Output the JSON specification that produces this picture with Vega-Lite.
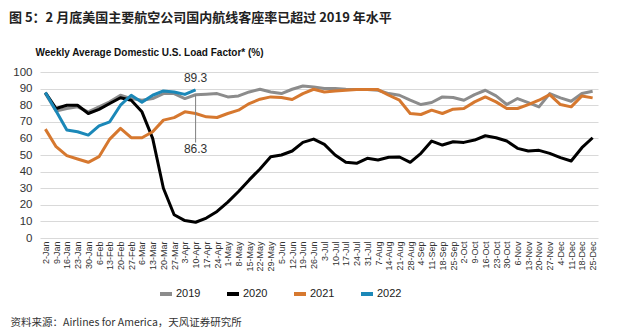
{
  "$schema": "https://vega.github.io/schema/vega-lite/v6.json",
  "width": 558,
  "height": 166,
  "autosize": {"type": "none"},
  "padding": {"left": 40, "top": 72, "right": 20, "bottom": 95},
  "background": "white",
  "config": {"font": "Liberation Sans, Noto Sans CJK SC", "view": {"stroke": null}},
  "title": {
    "text": "图 5：2 月底美国主要航空公司国内航线客座率已超过 2019 年水平",
    "anchor": "start", "frame": "group", "dx": -31, "offset": 22,
    "fontSize": 13, "font": "Noto Sans CJK SC", "fontWeight": "bold", "color": "#222222"
  },
  "data": {"values": [
    {"w": "2-Jan", "2019": 87, "2020": 87.6, "2021": 65.6, "2022": 87.6},
    {"w": "9-Jan", "2019": 76.5, "2020": 78, "2021": 55, "2022": 76.5},
    {"w": "16-Jan", "2019": 78, "2020": 80, "2021": 49.6, "2022": 65},
    {"w": "23-Jan", "2019": 79, "2020": 80, "2021": 47.6, "2022": 64},
    {"w": "30-Jan", "2019": 76, "2020": 75, "2021": 45.6, "2022": 62},
    {"w": "6-Feb", "2019": 79, "2020": 77.5, "2021": 49, "2022": 67.5},
    {"w": "13-Feb", "2019": 82, "2020": 81, "2021": 59.6, "2022": 70},
    {"w": "20-Feb", "2019": 86, "2020": 84.5, "2021": 66, "2022": 80},
    {"w": "27-Feb", "2019": 84, "2020": 83, "2021": 60.4, "2022": 86},
    {"w": "6-Mar", "2019": 83, "2020": 76, "2021": 60.4, "2022": 81.8},
    {"w": "13-Mar", "2019": 84, "2020": 60, "2021": 64, "2022": 86},
    {"w": "20-Mar", "2019": 87, "2020": 30, "2021": 71, "2022": 88.6},
    {"w": "27-Mar", "2019": 87, "2020": 14, "2021": 72.5, "2022": 88},
    {"w": "3-Apr", "2019": 84, "2020": 10.5, "2021": 76, "2022": 86.5},
    {"w": "10-Apr", "2019": 86.3, "2020": 9.5, "2021": 75, "2022": 89.3},
    {"w": "17-Apr", "2019": 86.6, "2020": 12, "2021": 73},
    {"w": "24-Apr", "2019": 87, "2020": 16, "2021": 72.6},
    {"w": "1-May", "2019": 85, "2020": 21.6, "2021": 75},
    {"w": "8-May", "2019": 85.6, "2020": 28, "2021": 77},
    {"w": "15-May", "2019": 88, "2020": 35, "2021": 81},
    {"w": "22-May", "2019": 89.6, "2020": 41.6, "2021": 83.6},
    {"w": "29-May", "2019": 88, "2020": 49, "2021": 85},
    {"w": "5-Jun", "2019": 87, "2020": 50, "2021": 84.6},
    {"w": "12-Jun", "2019": 89.6, "2020": 52.4, "2021": 83.4},
    {"w": "19-Jun", "2019": 91.6, "2020": 57.6, "2021": 87},
    {"w": "26-Jun", "2019": 91, "2020": 59.6, "2021": 89.6},
    {"w": "3-Jul", "2019": 90, "2020": 56.4, "2021": 88},
    {"w": "10-Jul", "2019": 90, "2020": 50, "2021": 88.6},
    {"w": "17-Jul", "2019": 89.6, "2020": 45.6, "2021": 89},
    {"w": "24-Jul", "2019": 89.4, "2020": 45, "2021": 89.4},
    {"w": "31-Jul", "2019": 89.4, "2020": 48, "2021": 89.4},
    {"w": "7-Aug", "2019": 89, "2020": 47, "2021": 89.4},
    {"w": "14-Aug", "2019": 87, "2020": 48.6, "2021": 86},
    {"w": "21-Aug", "2019": 86, "2020": 48.8, "2021": 83},
    {"w": "28-Aug", "2019": 83, "2020": 45.6, "2021": 75},
    {"w": "4-Sep", "2019": 80.4, "2020": 51, "2021": 74.4},
    {"w": "11-Sep", "2019": 81.6, "2020": 58.4, "2021": 77},
    {"w": "18-Sep", "2019": 85, "2020": 56, "2021": 75},
    {"w": "25-Sep", "2019": 84.6, "2020": 58, "2021": 77.6},
    {"w": "2-Oct", "2019": 83, "2020": 57.6, "2021": 78},
    {"w": "9-Oct", "2019": 86.4, "2020": 59, "2021": 82},
    {"w": "16-Oct", "2019": 89, "2020": 61.6, "2021": 85},
    {"w": "23-Oct", "2019": 85.6, "2020": 60.4, "2021": 82},
    {"w": "30-Oct", "2019": 80.4, "2020": 58.4, "2021": 78},
    {"w": "6-Nov", "2019": 84, "2020": 54, "2021": 78},
    {"w": "13-Nov", "2019": 81.6, "2020": 52.4, "2021": 80.4},
    {"w": "20-Nov", "2019": 79, "2020": 52.8, "2021": 83},
    {"w": "27-Nov", "2019": 87, "2020": 51, "2021": 86.4},
    {"w": "4-Dec", "2019": 84.4, "2020": 48.4, "2021": 80.4},
    {"w": "11-Dec", "2019": 82.4, "2020": 46.4, "2021": 79},
    {"w": "18-Dec", "2019": 87, "2020": 54.4, "2021": 85.6},
    {"w": "25-Dec", "2019": 88.4, "2020": 60.4, "2021": 84.4}
  ]},
  "encoding": {
    "x": {
      "field": "w", "type": "ordinal", "sort": null,
      "scale": {"type": "point", "padding": 0.5, "domain": ["2-Jan","9-Jan","16-Jan","23-Jan","30-Jan","6-Feb","13-Feb","20-Feb","27-Feb","6-Mar","13-Mar","20-Mar","27-Mar","3-Apr","10-Apr","17-Apr","24-Apr","1-May","8-May","15-May","22-May","29-May","5-Jun","12-Jun","19-Jun","26-Jun","3-Jul","10-Jul","17-Jul","24-Jul","31-Jul","7-Aug","14-Aug","21-Aug","28-Aug","4-Sep","11-Sep","18-Sep","25-Sep","2-Oct","9-Oct","16-Oct","23-Oct","30-Oct","6-Nov","13-Nov","20-Nov","27-Nov","4-Dec","11-Dec","18-Dec","25-Dec"]},
      "axis": {
        "title": "资料来源：Airlines for America，天风证券研究所",
        "titleX": -30, "titleY": 84, "titleAlign": "left", "titleAnchor": "start", "titleBaseline": "middle",
        "titleFontWeight": "normal", "titleFontSize": 10.5, "titleColor": "#333333", "titleFont": "Noto Sans CJK SC",
        "labelAngle": -90, "labelFontSize": 9, "labelPadding": 3, "ticks": false, "domain": false, "grid": false,
        "labelColor": "#333333", "labelOverlap": false
      }
    },
    "y": {
      "field": "v", "type": "quantitative", "scale": {"domain": [0, 100]},
      "axis": {
        "title": "Weekly Average Domestic U.S. Load Factor* (%)",
        "titleAngle": 0, "titleX": -5, "titleY": -20, "titleAlign": "left", "titleBaseline": "middle",
        "titleFontSize": 10, "titleFontWeight": "bold", "titleColor": "#111111",
        "values": [0, 10, 20, 30, 40, 50, 60, 70, 80, 90, 100],
        "labelFontSize": 11.5, "labelPadding": 8, "ticks": false, "domain": false, "labelOverlap": false,
        "grid": true, "gridColor": "#d9d9d9", "gridOpacity": 1, "labelColor": "#333333"
      }
    }
  },
  "layer": [
    {
      "transform": [{"fold": ["2019", "2020", "2021", "2022"], "as": ["year", "v"]}],
      "mark": {"type": "line", "strokeWidth": 3, "strokeJoin": "round"},
      "encoding": {
        "color": {
          "field": "year", "type": "nominal",
          "scale": {"domain": ["2019", "2020", "2021", "2022"], "range": ["#8c8c8c", "#000000", "#d6782f", "#1b88b8"]},
          "legend": {
            "orient": "none", "legendX": 118, "legendY": 214, "direction": "horizontal", "title": null,
            "symbolType": "stroke", "symbolStrokeWidth": 4, "symbolSize": 144, "labelFontSize": 11,
            "columnPadding": 18, "labelOffset": 2, "labelColor": "#222222"
          }
        }
      }
    },
    {
      "data": {"values": [{"w": "10-Apr", "v": 86.3, "v2": 57.5}]},
      "mark": {"type": "rule", "color": "#7f7f7f", "strokeWidth": 1},
      "encoding": {"y2": {"field": "v2"}}
    },
    {
      "data": {"values": [{"w": "10-Apr", "v": 89.3, "lab": "89.3"}]},
      "mark": {"type": "text", "fontSize": 12, "color": "#333333", "baseline": "bottom", "dy": -5},
      "encoding": {"text": {"field": "lab"}}
    },
    {
      "data": {"values": [{"w": "10-Apr", "v": 57.5, "lab": "86.3"}]},
      "mark": {"type": "text", "fontSize": 12, "color": "#333333", "baseline": "top", "dy": 1},
      "encoding": {"text": {"field": "lab"}}
    }
  ]
}
